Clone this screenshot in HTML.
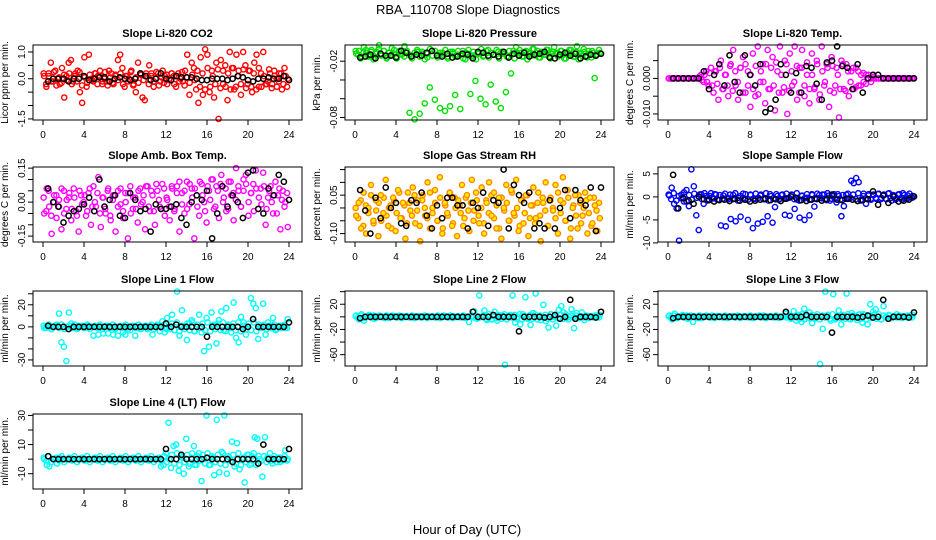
<!DOCTYPE html>
<html><head><meta charset="utf-8"><style>
html,body{margin:0;padding:0;background:#fff;}
svg{display:block;font-family:"Liberation Sans",Arial,sans-serif;}
</style></head><body>
<svg id="chart" width="936" height="540" viewBox="0 0 936 540">
<text x="468" y="14" text-anchor="middle" font-size="13">RBA_110708  Slope Diagnostics</text>
<text x="467" y="534" text-anchor="middle" font-size="13">Hour of Day (UTC)</text>
</svg>
<script>
// ---- data ----
const xTicks = [0,4,8,12,16,20,24];

const co2Vals = [0.1,-0.3,0.2,0.6,-0.1,0.3,0.0,-0.2,0.4,-0.7,0.1,0.6,0.7,-0.1,0.2,0.3,-0.5,-0.9,0.8,-0.3,0.9,0.0,-0.1,0.2,0.1,0.3,-0.2,0.0,-0.1,0.3,0.2,-0.2,0.1,0.7,0.9,0.4,-0.3,0.1,0.0,0.3,-0.2,-0.5,0.6,0.2,-0.7,-0.8,0.1,0.5,0.2,-0.3,0.0,0.2,-0.1,0.3,0.1,-0.2,0.0,0.2,0.1,-0.3,0.2,0.0,-0.1,0.3,0.9,-0.6,0.6,0.4,-0.4,-0.9,0.8,-0.6,1.1,0.9,-0.5,0.3,-0.7,0.6,-1.5,0.7,-0.2,0.5,-0.8,1.0,0.4,-0.4,0.9,0.3,-0.6,1.0,0.5,-0.2,0.3,-0.5,0.6,0.9,-0.3,0.2,1.0,-0.2,-0.1,0.2,-0.2,0.1,0.0,-0.1,0.2,-0.2,0.1,0.0];
const co2Band = [0.2,-0.2,0.1,-0.1,0.25,-0.25,0.05,-0.15,0.15,-0.05,0.2,-0.2,0.1,-0.1,0.25,-0.25,0.05,-0.15,0.15,-0.05,0.2,-0.2,0.1,-0.1,0.25,-0.25,0.05,-0.15,0.15,-0.05,0.2,-0.2,0.1,-0.1,0.25,-0.25,0.05,-0.15,0.15,-0.05,0.2,-0.2,0.1,-0.1,0.25,-0.25,0.05,-0.15,0.15,-0.05,0.2,-0.2,0.1,-0.1,0.25,-0.25,0.05,-0.15,0.15,-0.05,0.3,-0.3,0.2,-0.4,0.4,-0.3,0.1,-0.2,0.35,-0.35,0.3,-0.3,0.2,-0.4,0.4,-0.3,0.1,-0.2,0.35,-0.35,0.3,-0.3,0.2,-0.4,0.4,-0.3,0.1,-0.2,0.35,-0.35,0.3,-0.3,0.2,-0.4,0.4,-0.3];
const co2Black = [-0.1,0.0,0.0,0.0,-0.1,0.0,0.0,0.1,-0.05,0.0,0.05,0.05,-0.1,0.0,0.05,0.0,-0.05,0.0,0.2,0.1,-0.05,0.0,0.2,0.0,-0.05,0.1,0.05,0.05,0.05,0.0,-0.05,-0.05,0.0,0.0,0.0,-0.05,0.0,0.1,0.05,-0.05,-0.1,0.0,0.0,0.05,0.0,0.0,0.1,-0.05];
const co2Ticks = [-1.5,-1.0,-0.5,0.0,0.5,1.0];
const co2Labels = ["-1.5","","","0.0","","1.0"];

const presVals = [-0.012,-0.009,-0.015,-0.005,-0.011,-0.014,-0.008,-0.016,-0.01,-0.003,-0.013,-0.009,-0.017,-0.011,-0.006,-0.012,-0.015,-0.009,-0.013,-0.004,-0.011,-0.075,-0.014,-0.082,-0.01,-0.076,-0.012,-0.065,-0.016,-0.048,-0.009,-0.061,-0.013,-0.07,-0.011,-0.073,-0.015,-0.068,-0.01,-0.056,-0.013,-0.071,-0.009,-0.018,-0.012,-0.055,-0.014,-0.041,-0.011,-0.06,-0.015,-0.066,-0.008,-0.045,-0.013,-0.063,-0.01,-0.07,-0.012,-0.053,-0.016,-0.033,-0.009,-0.005,-0.013,-0.011,-0.015,-0.009,-0.012,-0.014,-0.007,-0.011,-0.016,-0.01,-0.013,-0.008,-0.015,-0.012,-0.005,-0.011,-0.014,-0.009,-0.017,-0.012,-0.008,-0.013,-0.015,-0.004,-0.011,-0.014,-0.01,-0.016,-0.012,-0.009,-0.038,-0.013,-0.011];
const presBand = [-0.009,-0.013,-0.017,-0.011,-0.008,-0.015,-0.01,-0.018,-0.012,-0.007,-0.014,-0.009,-0.016,-0.011,-0.013,-0.008,-0.017,-0.01,-0.012,-0.015,-0.009,-0.013,-0.017,-0.011,-0.008,-0.015,-0.01,-0.018,-0.012,-0.007,-0.014,-0.009,-0.016,-0.011,-0.013,-0.008,-0.017,-0.01,-0.012,-0.015,-0.009,-0.013,-0.017,-0.011,-0.008,-0.015,-0.01,-0.018,-0.012,-0.007,-0.014,-0.009,-0.016,-0.011,-0.013,-0.008,-0.017,-0.01,-0.012,-0.015,-0.009,-0.013,-0.017,-0.011,-0.008,-0.015,-0.01,-0.018,-0.012,-0.007,-0.014,-0.009,-0.016,-0.011,-0.013,-0.008,-0.017,-0.01,-0.012,-0.015,-0.009,-0.013,-0.017,-0.011,-0.008,-0.015,-0.01,-0.018,-0.012,-0.007,-0.014,-0.009,-0.016,-0.011,-0.013,-0.008];
const presBlack = [-0.016,-0.015,-0.013,-0.017,-0.012,-0.014,-0.014,-0.016,-0.009,-0.011,-0.015,-0.013,-0.014,-0.011,-0.009,-0.014,-0.015,-0.012,-0.016,-0.015,-0.012,-0.013,-0.017,-0.01,-0.011,-0.014,-0.013,-0.015,-0.01,-0.016,-0.012,-0.014,-0.011,-0.015,-0.013,-0.012,-0.01,-0.016,-0.017,-0.013,-0.011,-0.014,-0.012,-0.017,-0.015,-0.013,-0.014,-0.012];
const presTicks = [-0.08,-0.06,-0.04,-0.02];
const presLabels = ["-0.08","","","-0.02"];

const tempVals = [0,0,0,0,0,0,0,0,0,0,0,0,0,0.001,-0.001,0.002,-0.002,0.003,-0.004,0.002,-0.006,0.005,-0.003,0.001,-0.005,0.004,0.008,-0.002,-0.006,0.003,0.006,-0.004,0.002,-0.008,0.007,-0.005,0.009,-0.001,0.004,-0.007,0.008,-0.003,0.006,-0.009,0.002,0.009,-0.004,0.005,-0.010,0.007,-0.002,0.009,-0.006,0.003,0.008,-0.005,0.001,-0.007,0.007,-0.003,0.005,-0.006,0.009,-0.002,0.004,-0.008,0.006,-0.004,0.003,-0.011,0.005,-0.003,0.004,-0.005,0.002,-0.003,0.003,-0.002,0.001,-0.001,0.001,0,0,0,0,0,0,0,0,0,0,0,0,0,0,0,0,0,0,0];
const tempBand = [0,0,0,0,0,0,0,0,0,0,0,0,0.0005,-0.0005,0.001,-0.001,0.0015,-0.002,0.002,-0.0015,0.003,-0.003,0.001,-0.002,0.0035,-0.0035,0.002,-0.001,0.003,-0.004,0.004,-0.002,0.001,-0.003,0.0035,-0.0045,0.002,-0.001,0.004,-0.003,0.003,-0.002,0.0045,-0.004,0.001,-0.0025,0.004,-0.0035,0.002,-0.001,0.0035,-0.004,0.003,-0.002,0.0045,-0.003,0.001,-0.0025,0.004,-0.0045,0.002,-0.001,0.003,-0.0035,0.0035,-0.002,0.001,-0.003,0.004,-0.0035,0.002,-0.001,0.003,-0.0025,0.002,-0.002,0.0015,-0.0015,0.001,-0.001,0.0005,0,0,0,0,0,0,0,0,0,0,0,0,0,0,0];
const tempBlack = [0,0,0,0,0,0,0.002,-0.003,0.001,0.004,-0.002,0.0065,-0.001,-0.004,0.0065,0.001,-0.002,0.004,-0.0095,-0.0085,-0.006,0.004,0.001,-0.004,0.0015,-0.004,0.0035,0.003,-0.0015,-0.006,0.0045,0.005,0.009,0.0035,0.003,-0.003,0.004,-0.004,0,0.001,0.001,0,0,0,0,0,0,0];
const tempTicks = [-0.010,-0.005,0.000,0.005];
const tempLabels = ["-0.010","","0.000",""];

const ambVals = [-0.05,0.06,-0.02,-0.14,0.03,-0.07,0.01,-0.12,0.05,-0.03,0.02,-0.08,0.06,-0.04,-0.13,0.03,0.00,-0.06,0.04,-0.10,0.07,-0.02,0.11,-0.11,0.02,-0.05,0.06,-0.08,0.03,-0.13,0.05,-0.01,-0.07,0.04,-0.16,0.07,-0.03,0.02,-0.09,0.06,0.00,-0.12,0.07,-0.04,0.03,-0.10,0.05,-0.02,0.08,-0.06,0.01,-0.08,0.06,-0.03,0.07,-0.13,0.04,-0.05,0.09,-0.01,0.06,-0.16,0.03,-0.06,0.08,0.00,-0.09,0.05,0.10,-0.03,0.07,-0.07,0.12,0.02,-0.04,0.09,0.03,-0.08,0.15,0.05,-0.02,0.10,0.12,-0.06,0.04,0.08,0.14,-0.03,0.06,0.13,-0.10,0.02,0.07,-0.05,0.09,0.03,-0.12,0.05,0.00,-0.11];
const ambBand = [0.02,-0.04,0.05,-0.06,0.0,0.03,-0.02,0.06,-0.05,0.01,0.04,-0.03,0.02,-0.06,0.05,-0.01,0.03,-0.04,0.06,-0.02,0.0,0.04,-0.05,0.02,-0.03,0.05,-0.06,0.01,0.03,-0.02,0.06,-0.04,0.0,0.04,-0.05,0.02,-0.03,0.05,-0.01,0.03,0.07,-0.02,0.05,-0.04,0.08,0.01,-0.03,0.06,0.02,-0.02,0.07,-0.04,0.04,0.09,-0.01,0.05,-0.03,0.08,0.02,0.06,-0.02,0.09,0.03,-0.04,0.07,0.01,0.10,-0.02,0.05,0.08,0.0,0.06,-0.03,0.09,0.04,0.01,0.07,-0.02,0.05,0.08,0.0,0.04,-0.04,0.06,0.02,-0.01,0.07,-0.03,0.05,0.0,0.03,-0.05,0.06,0.01,-0.02,0.04];
const ambBlack = [0.06,0.00,-0.02,-0.09,-0.06,-0.04,-0.03,-0.01,0.02,-0.04,0.10,-0.02,0.01,0.03,-0.06,-0.07,0.04,0.01,-0.04,-0.03,-0.13,-0.01,-0.03,-0.03,-0.02,-0.01,-0.07,-0.10,0.00,0.03,0.01,0.05,-0.16,-0.05,0.07,-0.02,0.03,0.00,-0.07,0.13,0.14,-0.03,-0.05,0.06,0.03,0.12,0.09,0.01];
const ambTicks = [-0.15,-0.10,-0.05,0.00,0.05,0.10,0.15];
const ambLabels = ["-0.15","","","0.00","","","0.15"];

const rhVals = [-0.03,0.02,-0.08,0.06,-0.10,0.00,0.09,-0.05,0.03,-0.11,0.05,-0.02,0.11,-0.07,0.01,0.04,-0.09,0.07,-0.04,0.02,-0.12,0.06,-0.01,0.08,-0.06,0.03,-0.13,0.05,-0.03,0.10,-0.08,0.00,0.07,-0.05,0.12,-0.10,0.02,-0.02,0.06,-0.07,0.04,-0.11,0.01,0.09,-0.04,0.05,-0.09,0.11,-0.01,0.03,-0.06,0.08,-0.10,0.02,0.10,-0.03,0.06,-0.08,0.04,-0.12,0.00,0.09,-0.05,0.07,-0.02,0.11,-0.09,0.03,-0.06,0.05,-0.11,0.01,0.08,-0.04,0.06,-0.13,0.02,0.10,-0.07,0.04,-0.01,0.09,-0.10,0.03,0.12,-0.05,0.07,-0.12,0.00,0.05,-0.08,0.02,-0.03,0.06,-0.10,0.04,-0.06,0.01,-0.09,-0.04];
const rhBand = [0.0,-0.04,0.03,-0.07,0.01,-0.02,0.05,-0.06,-0.01,0.02,-0.05,0.04,-0.03,0.0,-0.08,0.03,-0.02,0.06,-0.04,0.01,-0.06,0.02,-0.03,0.05,-0.01,-0.07,0.03,0.0,-0.04,0.06,-0.02,0.02,-0.05,0.04,-0.08,0.01,-0.03,0.05,-0.06,0.0,0.03,-0.02,-0.07,0.04,-0.01,0.02,-0.05,0.06,-0.03,0.0,-0.06,0.03,-0.02,0.05,-0.04,0.01,-0.08,0.04,-0.01,0.02,-0.05,0.06,-0.03,0.0,-0.07,0.03,-0.02,0.05,-0.04,0.01,-0.06,0.02,-0.03,0.04,-0.01,-0.07,0.03,0.0,-0.04,0.06,-0.02,0.02,-0.05,0.04,-0.08,0.01,-0.03,0.05,-0.06,0.0,0.03,-0.02,-0.07,0.04,-0.01,0.02];
const rhBlack = [0.07,-0.01,-0.10,0.04,-0.04,0.08,0.00,0.02,-0.06,-0.07,0.03,0.02,0.06,-0.03,-0.08,0.01,-0.04,0.04,0.04,0.01,0.01,-0.08,0.02,0.00,0.06,-0.07,0.03,0.02,0.15,-0.08,0.09,0.05,0.02,0.06,-0.08,-0.06,-0.08,0.03,-0.08,0.00,0.07,-0.04,0.07,0.03,0.01,0.08,-0.09,0.08];
const rhTicks = [-0.10,-0.05,0.00,0.05,0.10,0.15];
const rhLabels = ["-0.10","","","0.05","",""];

const sfVals = [0.3,2,-1.5,-2.5,-9.5,0.5,-1,1.5,-2,6,2.3,-4,-7.2,0.6,-1.5,0.2,-0.5,0.8,-0.3,0.5,-0.6,-6.2,0.3,-6.4,-0.5,-4.8,0.4,-5.3,-0.2,-4.3,0.7,-0.6,-5,0.5,-6.8,-0.4,-5.8,0.3,-5.4,-0.5,-4.2,0.6,-5.6,-2.2,0.2,-0.4,0.5,-3.9,-0.3,-4.1,0.4,-2.6,-0.6,-4.5,0.3,-5,-0.2,-4,0.6,-2.1,-0.5,0.4,-0.3,0.5,-0.7,0.3,-0.4,0.6,-1.2,0.2,-4.2,-2,0.5,-0.4,3.5,3,4.1,3.2,-0.6,0.7,-1.5,0.3,-0.4,0.5,-0.2,0.6,-0.5,0.3,-0.4,0.7,-0.2,0.4,-0.6,0.5,-0.3,0.8,-0.4,0.3,-0.1,0.2];
const sfBand = [0.5,-0.5,0.8,-0.8,0.2,-0.3,1.0,-1.0,0.4,-0.6,0.7,-0.2,0.5,-0.5,0.8,-0.8,0.2,-0.3,0.6,-0.6,0.4,-0.4,0.7,-0.2,0.5,-0.5,0.8,-0.8,0.2,-0.3,0.6,-0.6,0.4,-0.4,0.7,-0.2,0.5,-0.5,0.8,-0.8,0.2,-0.3,0.6,-0.6,0.4,-0.4,0.7,-0.2,0.5,-0.5,0.8,-0.8,0.2,-0.3,0.6,-0.6,0.4,-0.4,0.7,-0.2,0.5,-0.5,0.8,-0.8,0.2,-0.3,0.6,-0.6,0.4,-0.4,0.7,-0.2,0.5,-0.5,0.8,-0.8,0.2,-0.3,0.6,-0.6,0.4,-0.4,0.7,-0.2,0.5,-0.5,0.8,-0.8,0.2,-0.3,0.6,-0.6,0.4,-0.4,0.7,-0.2];
const sfBlack = [4.8,-2.5,-0.3,-0.8,-1.5,0.1,-0.5,-0.7,-1,-0.7,-0.6,-0.9,-0.4,-0.8,-0.6,-1,-0.8,-0.6,-0.4,-0.7,-0.5,-0.9,-0.4,0.1,-0.2,-0.7,-0.9,-0.6,-0.4,-0.8,-0.5,0.5,-0.6,-0.7,-0.4,-0.6,-0.9,-0.7,-0.5,1.2,-1.7,0.3,-1.3,0.1,-1,-0.8,-0.6,0.1];
const sfTicks = [-10,-5,0,5];
const sfLabels = ["-10","-5","0","5"];

const l1Vals = [-1,1,0,-2,0,2,12,-14,-18,-31,13,3,0,-1,1,0,-1,0,1,0,-8,0,-7,0,-6,1,-6,0,-7,-1,-8,0,-5,-7,0,-3,1,-8,0,-2,0,1,-2,0,-7,0,2,-4,5,-5,8,-2,11,-3,32,-8,15,0,-12,3,6,-4,0,11,-5,-22,8,-18,13,2,-15,6,14,-3,17,0,-5,22,-10,-14,9,4,-7,0,26,21,17,-11,0,21,-7,4,0,8,-3,0,1,0,-1,7];
const lBand = [1,-1,2,-2,0,1,-1,2,-2,0,1,-1,2,-2,0,1,-1,2,-2,0,1,-1,2,-2,0,1,-1,2,-2,0,1,-1,2,-2,0,1,-1,2,-2,0,1,-1,2,-2,0,1,-1,2,-2,0,3,-3,4,-4,1,-2,3,-3,4,-4,2,-1,3,-3,4,-4,1,-2,3,-3,4,-4,2,-1,3,-3,4,-4,1,-2,3,-3,4,-4,2,-1,2,-2,1,-1,2,-2,1,-1,2,-1];
const l1Black = [1,0,0,0,-2,0,0,0,0,0,0,0,0,0,0,0,0,0,0,0,0,0,0,3,0,2,0,0,0,0,0,-9,0,0,0,0,0,0,-2,0,7,0,0,0,0,0,0,4];
const l1Ticks = [-30,-20,-10,0,10,20,30];
const l1Labels = ["-30","","","0","","20",""];

const l2Vals = [2,-4,4,-6,0,3,1,-3,0,2,0,-2,1,0,2,0,-1,0,1,0,0,-1,0,1,0,-1,0,0,1,0,0,-1,0,0,2,0,-1,0,1,0,0,0,-1,0,-8,0,9,-3,34,0,10,-5,0,-4,8,-6,0,2,-76,0,3,34,-9,0,-12,4,31,-3,-13,6,37,0,-5,19,-7,-17,4,0,-14,11,17,7,-2,0,12,-18,6,0,7,-5,0,1,0,2,0,3];
const l2Black = [-2,0,0,0,0,0,0,0,0,0,0,0,0,0,0,0,0,0,0,0,0,0,8,0,0,0,3,0,0,0,0,-23,0,0,0,0,-1,0,3,-3,0,27,-3,0,0,0,-1,8];
const l2Ticks = [-60,-40,-20,0,20,40];
const l2Labels = ["-60","","-20","","20",""];

const l3Vals = [2,-4,5,-2,0,3,1,-3,2,-8,0,-2,1,0,2,0,-1,0,1,0,0,-1,0,1,0,-1,0,0,1,0,0,-1,0,0,2,0,-1,0,1,0,0,0,-1,0,5,0,-3,9,-6,3,-8,13,0,7,-10,-2,0,-75,-19,40,3,-6,36,-2,10,-12,0,37,-3,6,0,-5,4,-9,3,-12,20,8,12,0,-4,17,0,3,-2,0,4,0,1,0,2,0,3];
const l3Black = [-2,0,0,0,0,0,0,0,0,0,0,0,0,0,0,0,0,0,0,0,0,0,8,0,0,0,3,0,0,0,0,-25,0,0,0,0,-1,0,2,-1,0,27,-3,0,0,0,-1,7];
const l3Ticks = [-60,-40,-20,0,20,40];
const l3Labels = ["-60","","-20","","20",""];

const l4Vals = [0,-4,-5,-2,0,-3,1,0,0,0,0,0,0,0,0,0,0,0,0,0,0,0,0,0,0,0,0,0,0,0,0,0,0,0,0,0,0,0,0,0,0,0,0,0,0,0,-5,-4,4,25,-6,9,10,-8,2,-10,14,-5,1,9,-4,4,-15,0,30,-4,2,-11,27,-9,5,30,-10,1,12,-5,11,-7,0,-16,3,-4,2,15,14,0,-12,15,1,4,-3,0,1,-2,0,6,0];
const l4Black = [2,0,0,0,0,0,0,0,0,0,0,0,0,0,0,0,0,0,0,0,0,0,0,7,0,0,3,0,0,0,0,1,0,0,0,0,-2,0,0,0,0,-3,10,0,0,0,0,7];
const l4Ticks = [-10,0,10,20,30];
const l4Labels = ["-10","","10","","30"];

// ---- layout ----
const colLeft = [33, 345, 658];
const rowTop = [45, 167, 291, 414];
const PW = 269, PH = 75;

const panels = [
 {name:"co2", title:"Slope Li-820 CO2", ylab:"Licor ppm per min.", lo:-1.54, hi:1.26, ticks:co2Ticks, labels:co2Labels, col:"#ff0000", vals:co2Vals, band:co2Band, blk:co2Black, c:0, r:0},
 {name:"pressure", title:"Slope Li-820 Pressure", ylab:"kPa per min.", lo:-0.0827, hi:-0.0027, ticks:presTicks, labels:presLabels, col:"#00e000", vals:presVals, band:presBand, blk:presBlack, c:1, r:0},
 {name:"temp", title:"Slope Li-820 Temp.", ylab:"degrees C per min.", lo:-0.0117, hi:0.0094, ticks:tempTicks, labels:tempLabels, col:"#ff00ff", vals:tempVals, band:tempBand, blk:tempBlack, c:2, r:0},
 {name:"amb-box-temp", title:"Slope Amb. Box Temp.", ylab:"degrees C per min.", lo:-0.176, hi:0.155, ticks:ambTicks, labels:ambLabels, col:"#ff00ff", vals:ambVals, band:ambBand, blk:ambBlack, c:0, r:1},
 {name:"gas-stream-rh", title:"Slope Gas Stream RH", ylab:"percent per min.", lo:-0.133, hi:0.160, ticks:rhTicks, labels:rhLabels, col:"#ff8800", vals:rhVals, band:rhBand, blk:rhBlack, c:1, r:1},
 {name:"sample-flow", title:"Slope Sample Flow", ylab:"ml/min per min.", lo:-9.8, hi:6.5, ticks:sfTicks, labels:sfLabels, col:"#0000ff", vals:sfVals, band:sfBand, blk:sfBlack, c:2, r:1},
 {name:"line1-flow", title:"Slope Line 1 Flow", ylab:"ml/min per min.", lo:-35.5, hi:32.5, ticks:l1Ticks, labels:l1Labels, col:"#00ffff", vals:l1Vals, band:lBand, blk:l1Black, c:0, r:2},
 {name:"line2-flow", title:"Slope Line 2 Flow", ylab:"ml/min per min.", lo:-78, hi:41, ticks:l2Ticks, labels:l2Labels, col:"#00ffff", vals:l2Vals, band:lBand, blk:l2Black, c:1, r:2},
 {name:"line3-flow", title:"Slope Line 3 Flow", ylab:"ml/min per min.", lo:-78, hi:41, ticks:l3Ticks, labels:l3Labels, col:"#00ffff", vals:l3Vals, band:lBand, blk:l3Black, c:2, r:2},
 {name:"line4-flow", title:"Slope Line 4 (LT) Flow", ylab:"ml/min per min.", lo:-20.5, hi:31, ticks:l4Ticks, labels:l4Labels, col:"#00ffff", vals:l4Vals, band:lBand, blk:l4Black, c:0, r:3}
];

const NS = "http://www.w3.org/2000/svg";
const svg = document.getElementById('chart');
function mk(tag, attrs, parent){
  const e = document.createElementNS(NS, tag);
  for (const k in attrs) e.setAttribute(k, attrs[k]);
  (parent||svg).appendChild(e);
  return e;
}

panels.forEach(p => {
  const L = colLeft[p.c], T = rowTop[p.r];
  const xS = h => L + 10 + h * (246/24);
  const yS = v => T + PH - (v - p.lo) / (p.hi - p.lo) * PH;
  const g = mk('g', {});
  
  

  const t = mk('text', {x: L + PW/2, y: T - 8, 'text-anchor':'middle', 'font-size':'11', 'font-weight':'bold'}, g);
  t.textContent = p.title;
  
  

  const yl = mk('text', {x: 0, y: 0, 'text-anchor':'middle', 'font-size':'10', transform:`translate(${L-25},${T+PH/2}) rotate(-90)`}, g);
  yl.textContent = p.ylab;
  
  

  const fillCol = p.col === "#ff8800" ? "#ffee00" : "none";
  // dense band points
  const bandG = mk('g', {fill: fillCol, stroke: p.col, 'stroke-width':'1.4'}, g);
  
  
  const nb = p.band.length;
  p.band.forEach((v, i) => {
    const c = mk('circle', {cx: xS((i + 0.25) * 24 / nb), cy: yS(v), r: 2.6}, bandG);
    
    
  });
  // colored points
  const pts = mk('g', {fill: fillCol, stroke: p.col, 'stroke-width':'1.4'}, g);
  
  
  const n = p.vals.length;
  p.vals.forEach((v, i) => {
    const c = mk('circle', {cx: xS((i + 0.5) * 24 / n), cy: yS(v), r: 2.6}, pts);
    
    
  });
  // black points
  const bp = mk('g', {fill:'none', stroke:'#000', 'stroke-width':'1.5'}, g);
  
  
  p.blk.forEach((v, i) => {
    const c = mk('circle', {cx: xS(0.5 + i * 0.5), cy: yS(v), r: 2.6}, bp);
    
    
  });

  const box = mk('rect', {x: L, y: T, width: PW, height: PH, fill:'none', stroke:'#000', 'stroke-width':'1'}, g);
  
  

  const xa = mk('g', {stroke:'#000', 'stroke-width':'1'}, g);
  
  
  xTicks.forEach(h => {
    mk('line', {x1: xS(h), x2: xS(h), y1: T+PH, y2: T+PH+5}, xa);
    const tl = mk('text', {x: xS(h), y: T+PH+18, 'text-anchor':'middle', 'font-size':'10', stroke:'none', fill:'#000'}, xa);
    tl.textContent = h;
    
    
  });
  const ya = mk('g', {stroke:'#000', 'stroke-width':'1'}, g);
  
  
  p.ticks.forEach((v, i) => {
    const y = yS(v);
    mk('line', {x1: L-5, x2: L, y1: y, y2: y}, ya);
    if (p.labels[i]) {
      const tl = mk('text', {x: 0, y: 0, 'text-anchor':'middle', 'font-size':'10', stroke:'none', fill:'#000', transform:`translate(${L-8},${y}) rotate(-90)`}, ya);
      tl.textContent = p.labels[i];
      
      
    }
  });
});
</script>
</body></html>
